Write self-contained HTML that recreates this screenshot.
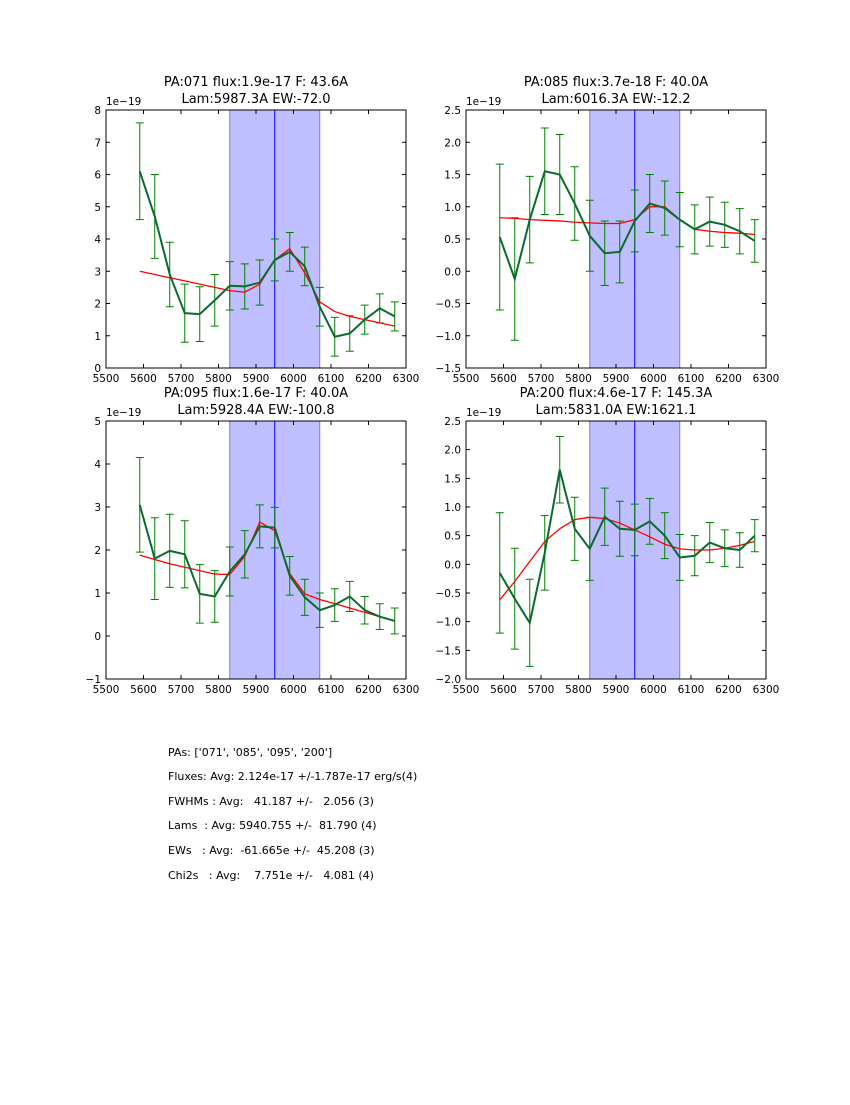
<!DOCTYPE html>
<html><head><meta charset="utf-8"><style>
body{margin:0;background:#fff;}
svg text{font-family:"DejaVu Sans","Liberation Sans",sans-serif;}
</style></head><body>
<svg id="fig" width="850" height="1100" xmlns="http://www.w3.org/2000/svg">
<rect width="850" height="1100" fill="#fff"/>
<g id="notes" font-size="11" fill="#000">
<text x="168" y="756" xml:space="preserve">PAs: ['071', '085', '095', '200']</text>
<text x="168" y="780" xml:space="preserve">Fluxes: Avg: 2.124e-17 +/-1.787e-17 erg/s(4)</text>
<text x="168" y="805" xml:space="preserve">FWHMs : Avg:   41.187 +/-   2.056 (3)</text>
<text x="168" y="829" xml:space="preserve">Lams  : Avg: 5940.755 +/-  81.790 (4)</text>
<text x="168" y="854" xml:space="preserve">EWs   : Avg:  -61.665e +/-  45.208 (3)</text>
<text x="168" y="879" xml:space="preserve">Chi2s   : Avg:    7.751e +/-   4.081 (4)</text>
</g>
</svg>
<script>
const wl=[5590,5630,5670,5710,5750,5790,5830,5870,5910,5950,5990,6030,6070,6110,6150,6190,6230,6270];
const titles1=["PA:071 flux:1.9e-17 F: 43.6A","PA:085 flux:3.7e-18 F: 40.0A","PA:095 flux:1.6e-17 F: 40.0A","PA:200 flux:4.6e-17 F: 145.3A"];
const titles2=["Lam:5987.3A EW:-72.0","Lam:6016.3A EW:-12.2","Lam:5928.4A EW:-100.8","Lam:5831.0A EW:1621.1"];
const flux1=[6.1,4.7,2.9,1.7,1.67,2.1,2.55,2.53,2.65,3.35,3.6,3.15,1.9,0.97,1.07,1.5,1.85,1.6];
const err1=[1.5,1.3,1.0,0.9,0.85,0.8,0.75,0.7,0.7,0.65,0.6,0.6,0.6,0.6,0.55,0.45,0.45,0.45];
const fit1=[3.0,2.9,2.8,2.7,2.6,2.5,2.4,2.35,2.6,3.35,3.7,2.95,2.05,1.75,1.6,1.5,1.4,1.3];
const flux2=[0.53,-0.12,0.8,1.55,1.5,1.05,0.55,0.28,0.3,0.78,1.05,0.98,0.8,0.65,0.77,0.72,0.62,0.47];
const err2=[1.13,0.95,0.67,0.67,0.62,0.57,0.55,0.5,0.48,0.48,0.45,0.42,0.42,0.38,0.38,0.35,0.35,0.33];
const fit2=[0.83,0.82,0.8,0.79,0.78,0.76,0.75,0.74,0.74,0.8,1.0,1.0,0.8,0.65,0.62,0.6,0.59,0.57];
const flux3=[3.05,1.8,1.98,1.9,0.98,0.92,1.5,1.9,2.55,2.52,1.4,0.9,0.6,0.72,0.92,0.6,0.45,0.35];
const err3=[1.1,0.95,0.85,0.78,0.68,0.6,0.57,0.55,0.5,0.47,0.45,0.42,0.4,0.38,0.35,0.32,0.3,0.3];
const fit3=[1.88,1.78,1.68,1.6,1.52,1.44,1.43,1.85,2.65,2.45,1.45,0.98,0.85,0.75,0.65,0.55,0.45,0.35];
const flux4=[-0.15,-0.6,-1.02,0.2,1.65,0.62,0.27,0.83,0.62,0.6,0.75,0.5,0.12,0.15,0.38,0.28,0.25,0.5];
const err4=[1.05,0.88,0.76,0.65,0.58,0.55,0.55,0.5,0.48,0.45,0.4,0.4,0.4,0.35,0.35,0.32,0.3,0.28];
const fit4=[-0.62,-0.3,0.05,0.4,0.62,0.78,0.82,0.8,0.72,0.6,0.48,0.35,0.27,0.25,0.25,0.28,0.33,0.4];
const xTicks=[5500,5600,5700,5800,5900,6000,6100,6200,6300];
const yTicks1=[0,1,2,3,4,5,6,7,8];
const yTicks2=[-1.5,-1.0,-0.5,0.0,0.5,1.0,1.5,2.0,2.5];
const yTicks3=[-1,0,1,2,3,4,5];
const yTicks4=[-2.0,-1.5,-1.0,-0.5,0.0,0.5,1.0,1.5,2.0,2.5];
const band=[5830,6070], lineX=5950;

const NS="http://www.w3.org/2000/svg";
const svg=document.getElementById('fig');
function mk(tag,attrs,parent){const e=document.createElementNS(NS,tag);for(const k in attrs)e.setAttribute(k,attrs[k]);(parent||svg).appendChild(e);return e;}
const panels=[
 {x:106,y:110,flux:flux1,err:err1,fit:fit1,yt:yTicks1,dec:0},
 {x:466,y:110,flux:flux2,err:err2,fit:fit2,yt:yTicks2,dec:1},
 {x:106,y:421,flux:flux3,err:err3,fit:fit3,yt:yTicks3,dec:0},
 {x:466,y:421,flux:flux4,err:err4,fit:fit4,yt:yTicks4,dec:1}];
const W=300,H=258;
panels.forEach((p,i)=>{
 const g=mk('g',{});
 
 
 const ymin=p.yt[0],ymax=p.yt[p.yt.length-1];
 const sx=v=>p.x+(v-5500)/800*W;
 const sy=v=>p.y+H-(v-ymin)/(ymax-ymin)*H;
 const b=mk('rect',{x:sx(band[0]),y:p.y,width:sx(band[1])-sx(band[0]),height:H,fill:'#bfbfff',stroke:'#8080c0','stroke-width':1},g);
 
 
 const vl=mk('line',{x1:sx(lineX),x2:sx(lineX),y1:p.y,y2:p.y+H,stroke:'#0000ff','stroke-width':1},g);
 
 
 wl.forEach((w,j)=>{
  const x=sx(w),y1=sy(p.flux[j]-p.err[j]),y2=sy(p.flux[j]+p.err[j]);
  const eb=mk('path',{d:`M${x},${y1}V${y2}M${x-4},${y1}H${x+4}M${x-4},${y2}H${x+4}`,stroke:'#008000','stroke-width':1,fill:'none'},g);
  
  
 });
 const fl=mk('polyline',{points:wl.map((w,j)=>sx(w)+','+sy(p.fit[j])).join(' '),stroke:'#ff0000','stroke-width':1.3,fill:'none'},g);
 
 
 const dl=mk('polyline',{points:wl.map((w,j)=>sx(w)+','+sy(p.flux[j])).join(' '),stroke:'#0b6b2c','stroke-width':2,fill:'none'},g);
 
 
 mk('rect',{x:p.x,y:p.y,width:W,height:H,fill:'none',stroke:'#000','stroke-width':1},g);
 xTicks.forEach(t=>{
  const x=sx(t);
  mk('path',{d:`M${x},${p.y+H}v-4M${x},${p.y}v4`,stroke:'#000'},g);
  const tx=mk('text',{x:x,y:p.y+H+14,'font-size':10.5,'text-anchor':'middle'},g);tx.textContent=t;
  
  
 });
 p.yt.forEach(t=>{
  const y=sy(t);
  mk('path',{d:`M${p.x},${y}h4M${p.x+W},${y}h-4`,stroke:'#000'},g);
  const ty=mk('text',{x:p.x-5,y:y+4,'font-size':10.5,'text-anchor':'end'},g);
  ty.textContent=(p.dec?t.toFixed(1):String(t)).replace('-','\u2212');
  
  
 });
 const off=mk('text',{x:p.x,y:p.y-5,'font-size':10.5},g);off.textContent='1e\u221219';
 
 
 const t1=mk('text',{x:p.x+W/2,y:p.y-24,'font-size':13,'text-anchor':'middle'},g);t1.textContent=titles1[i];
 
 
 const t2=mk('text',{x:p.x+W/2,y:p.y-7,'font-size':13,'text-anchor':'middle'},g);t2.textContent=titles2[i];
 
 
});
</script>
</body></html>
